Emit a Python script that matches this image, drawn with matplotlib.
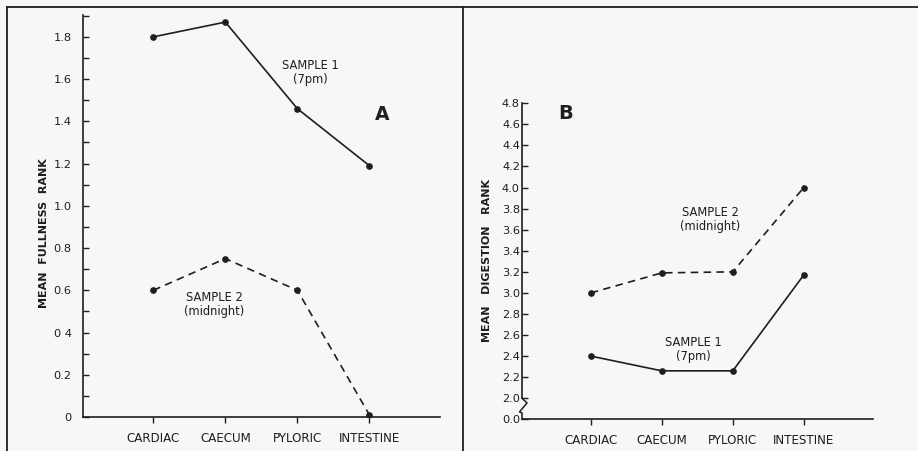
import matplotlib
matplotlib.use("Agg")
import matplotlib.pyplot as plt
from matplotlib.lines import Line2D
import matplotlib.transforms as mtransforms
import numpy as np

# Stomach regions along the gut
regions = ["CARDIAC", "CAECUM", "PYLORIC", "INTESTINE"]

# Panel A: mean fullness rank
fullness_sample1 = [1.80, 1.87, 1.46, 1.19]   # 7pm
fullness_sample2 = [0.60, 0.75, 0.60, 0.01]   # midnight

# Panel B: mean digestion rank
digestion_sample1 = [2.40, 2.26, 2.26, 3.17]  # 7pm
digestion_sample2 = [3.00, 3.19, 3.20, 4.00]  # midnight

ink = "#1e1e1e"
bg = "#f7f7f7"
W, H = 918, 451

plt.rcParams["font.family"] = ["DejaVu Sans"]

fig = plt.figure(figsize=(W / 100, H / 100), dpi=100, facecolor=bg)


def px_axes(left, top, right, bottom):
    return fig.add_axes([left / W, 1 - bottom / H, (right - left) / W, (bottom - top) / H])


x = np.arange(1, len(regions) + 1)
dash = (0, (4.5, 3.2))
lw = 1.2
note_size = 8.3


def style_axes(ax):
    ax.set_facecolor("none")
    for s in ("top", "right"):
        ax.spines[s].set_visible(False)
    for s in ("left", "bottom"):
        ax.spines[s].set_color(ink)
        ax.spines[s].set_linewidth(1.2)
    ax.set_xticks(x)
    ax.set_xticklabels(regions)
    ax.tick_params(axis="x", direction="out", length=4.5, width=1.0, colors=ink,
                   labelsize=8.6, pad=6)
    ax.tick_params(axis="y", which="both", direction="in", length=4.5, width=1.0,
                   colors=ink, labelsize=8.2)


# ---------------- Panel A ----------------
axA = px_axes(82.7, 14.7, 440, 417)
style_axes(axA)
axA.set_xlim(0.02, 4.98)
axA.set_ylim(0, 1.905)
axA.set_yticks(np.arange(0, 1.81, 0.2))
axA.set_yticks(np.arange(0.1, 1.91, 0.2), minor=True)
axA.set_yticklabels(["0", "0.2", "0 4", "0.6", "0.8", "1.0", "1.2", "1.4", "1.6", "1.8"])
axA.tick_params(axis="y", which="both", pad=8)

axA.plot(x, fullness_sample1, color=ink, lw=lw, marker="o", ms=3.8)
axA.plot(x, fullness_sample2, color=ink, lw=lw, linestyle=dash, marker="o", ms=3.8)

axA.set_ylabel("MEAN  FULLNESS  RANK", fontsize=8, fontweight="bold", color=ink)
axA.yaxis.set_label_coords(-0.094, 0.457)

axA.text(3.18, 1.63, "SAMPLE 1\n(7pm)", ha="center", va="center", fontsize=note_size,
         color=ink, linespacing=1.1)
axA.text(1.85, 0.531, "SAMPLE 2\n(midnight)", ha="center", va="center", fontsize=note_size,
         color=ink, linespacing=1.1)
axA.text(4.18, 1.434, "A", ha="center", va="center", fontsize=13.5, fontweight="bold",
         color=ink)

# ---------------- Panel B ----------------
axB = px_axes(522, 103.3, 873.3, 419.3)
style_axes(axB)
axB.set_xlim(0.03, 4.98)
axB.set_ylim(1.8, 4.8)
b_ticks = np.round(np.arange(1.8, 4.81, 0.2), 1)
axB.set_yticks(b_ticks)
axB.set_yticklabels(["0.0"] + [f"{v:.1f}" for v in b_ticks[1:]])
axB.tick_params(axis="y", pad=1.5)
axB.spines["left"].set_bounds(2.0, 4.8)

# broken-axis zigzag between 0.0 and 2.0
trans = mtransforms.blended_transform_factory(axB.transAxes, axB.transData)
px = 1 / 351.3
zig_x = [0, 5 * px, -2.5 * px, 0, 0]
zig_y = [2.0, 1.955, 1.87, 1.86, 1.8]
axB.add_line(Line2D(zig_x, zig_y, transform=trans, color=ink, lw=1.1, clip_on=False))

axB.plot(x, digestion_sample1, color=ink, lw=lw, marker="o", ms=3.8)
axB.plot(x, digestion_sample2, color=ink, lw=lw, linestyle=dash, marker="o", ms=3.8)

axB.set_ylabel("MEAN   DIGESTION   RANK", fontsize=8, fontweight="bold", color=ink)
axB.yaxis.set_label_coords(-0.085, 0.504)

axB.text(2.685, 3.70, "SAMPLE 2\n(midnight)", ha="center", va="center", fontsize=note_size,
         color=ink, linespacing=1.1)
axB.text(2.445, 2.458, "SAMPLE 1\n(7pm)", ha="center", va="center", fontsize=note_size,
         color=ink, linespacing=1.1)
axB.text(0.65, 4.70, "B", ha="center", va="center", fontsize=14, fontweight="bold",
         color=ink)

# ---------------- figure frame ----------------
top_y = 1 - 7 / H
fig.add_artist(Line2D([7 / W, 1.0], [top_y, top_y], color=ink, lw=1.3))
fig.add_artist(Line2D([7 / W, 7 / W], [0, top_y], color=ink, lw=1.3))
fig.add_artist(Line2D([463 / W, 463 / W], [0, top_y], color=ink, lw=1.3))

fig.savefig("out.png", dpi=100, facecolor=bg)
